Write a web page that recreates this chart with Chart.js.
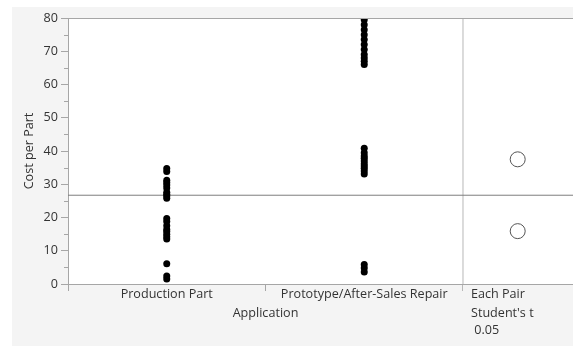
<!DOCTYPE html>
<html><head><meta charset="utf-8">
<script src="https://cdn.jsdelivr.net/npm/chart.js@4/dist/chart.umd.min.js"></script>
<style>
html,body{margin:0;padding:0;background:#fff;}
#wrap{position:absolute;left:12px;top:7px;width:561px;height:339px;background:#f4f4f4;}
canvas{display:block;}
</style></head><body>
<div id="wrap"><canvas id="c" width="561" height="339"></canvas></div>
<script>
// ---- data ----
const categories = ['Production Part', 'Prototype/After-Sales Repair'];
const productionPart = [34.7, 33.8, 31.2, 30.5, 29.8, 28.9, 27.6, 27.0, 26.5, 25.8,
                        19.7, 18.8, 17.5, 16.4, 15.8, 15.0, 14.2, 13.5, 6.1, 2.4, 1.5];
const prototypeRepair = [79.5, 78.0, 76.5, 75.0, 73.5, 72.0, 70.5, 69.0, 68.0, 67.0, 66.0,
                         40.8, 39.5, 38.5, 37.8, 37.0, 36.2, 35.5, 34.8, 34.0, 33.1,
                         5.9, 4.8, 3.6];
const grandMean = [26.7];
const comparisonCircleCenters = [37.5, 15.9];
const yTickValues = [0, 10, 20, 30, 40, 50, 60, 70, 80];
const panelLabels = ['Each Pair', "Student's t", ' 0.05'];
const xTitle = 'Application';
const yTitle = 'Cost per Part';

// ---- layout constants ----
const Y_MIN = 0, Y_MAX = 80;
const PANEL_X = 2;          // start of comparison-circle panel
const X_MAX = 2.557;        // right edge
const CIRCLE_X = 2.277;
const AXIS_GRAY = '#a6a6a6';
const FONT = "'Open Sans', 'Noto Sans', sans-serif";
const FS = 12.6;
const TEXT = '#333333';

Chart.defaults.font.family = FONT;
Chart.defaults.font.size = FS;
Chart.defaults.color = TEXT;

const oneway = {
  id: 'oneway',
  beforeDraw(chart) {
    const {ctx, chartArea: a} = chart;
    ctx.save();
    ctx.fillStyle = '#ffffff';
    ctx.fillRect(a.left, a.top, a.right - a.left, a.bottom - a.top);
    ctx.restore();
  },
  afterDraw(chart) {
    const {ctx, chartArea: a, scales} = chart;
    const xs = scales.x, ys = scales.y;
    ctx.save();
    // top frame line
    ctx.strokeStyle = AXIS_GRAY; ctx.lineWidth = 1;
    ctx.beginPath(); ctx.moveTo(a.left, a.top + 0.5); ctx.lineTo(a.right, a.top + 0.5); ctx.stroke();
    // minor y ticks
    for (let v = Y_MIN + 5; v < Y_MAX; v += 10) {
      const y = Math.round(ys.getPixelForValue(v)) + 0.5;
      ctx.beginPath(); ctx.moveTo(a.left - 4, y); ctx.lineTo(a.left, y); ctx.stroke();
    }
    // x axis title centred under the category region
    ctx.fillStyle = TEXT;
    ctx.font = FS + 'px ' + FONT;
    ctx.textAlign = 'center'; ctx.textBaseline = 'middle';
    ctx.fillText(xTitle, xs.getPixelForValue(1), a.bottom + 29.5);
    // panel labels
    ctx.textAlign = 'left';
    const px = xs.getPixelForValue(PANEL_X) + 8;
    const offs = [10.5, 29.5, 46.5];
    panelLabels.forEach((t, i) => ctx.fillText(t, px, a.bottom + offs[i]));
    ctx.restore();
  }
};

new Chart(document.getElementById('c'), {
  type: 'scatter',
  data: {
    datasets: [
      { type: 'line', data: [{x: 0, y: grandMean[0]}, {x: X_MAX, y: grandMean[0]}],
        borderColor: '#7d7d7d', borderWidth: 1, pointRadius: 0, order: 5 },
      { type: 'line', data: [{x: PANEL_X, y: Y_MIN}, {x: PANEL_X, y: Y_MAX}],
        borderColor: '#b8b8b8', borderWidth: 1, pointRadius: 0, order: 5 },
      { label: categories[0], data: productionPart.map(v => ({x: 0.5, y: v})),
        backgroundColor: '#000', borderColor: '#000', pointRadius: 3.5, borderWidth: 0, order: 1 },
      { label: categories[1], data: prototypeRepair.map(v => ({x: 1.5, y: v})),
        backgroundColor: '#000', borderColor: '#000', pointRadius: 3.5, borderWidth: 0, order: 1 },
      { label: 'comparison circles', data: comparisonCircleCenters.map(v => ({x: CIRCLE_X, y: v})),
        backgroundColor: 'rgba(0,0,0,0)', borderColor: '#555', pointRadius: 7.5, borderWidth: 1, order: 1 }
    ]
  },
  options: {
    responsive: false,
    animation: false,
    layout: { autoPadding: false, padding: { top: 11, right: 0, left: 0, bottom: 0 } },
    plugins: { legend: { display: false }, tooltip: { enabled: false } },
    scales: {
      x: {
        type: 'linear', min: 0, max: X_MAX,
        afterBuildTicks(s) { s.ticks = [0, 0.5, 1, 1.5, 2].map(v => ({value: v})); },
        afterFit(s) { s.height = 62; s.paddingLeft = 0; s.paddingRight = 0; },
        ticks: {
          autoSkip: false, maxRotation: 0, padding: -4, color: TEXT,
          font: { size: FS },
          callback: v => v === 0.5 ? categories[0] : (v === 1.5 ? categories[1] : '')
        },
        grid: {
          drawOnChartArea: false, drawTicks: true, tickLength: 7,
          tickColor: c => (c.tick && (c.tick.value === 0.5 || c.tick.value === 1.5)) ? 'rgba(0,0,0,0)' :
                          (c.tick && c.tick.value === 2 ? '#b8b8b8' : AXIS_GRAY)
        },
        border: { display: true, color: AXIS_GRAY }
      },
      y: {
        min: Y_MIN, max: Y_MAX,
        afterBuildTicks(s) { s.ticks = yTickValues.map(v => ({value: v})); },
        afterFit(s) { s.width = 56; s.paddingTop = 0; s.paddingBottom = 0; },
        ticks: { padding: 3, color: TEXT, font: { size: FS } },
        grid: { drawOnChartArea: false, drawTicks: true, tickLength: 7, tickColor: AXIS_GRAY },
        border: { display: true, color: AXIS_GRAY },
        title: { display: true, text: yTitle, color: TEXT, font: { size: FS }, padding: { top: 10, bottom: 4 } }
      }
    }
  },
  plugins: [oneway]
});
</script>
</body></html>
